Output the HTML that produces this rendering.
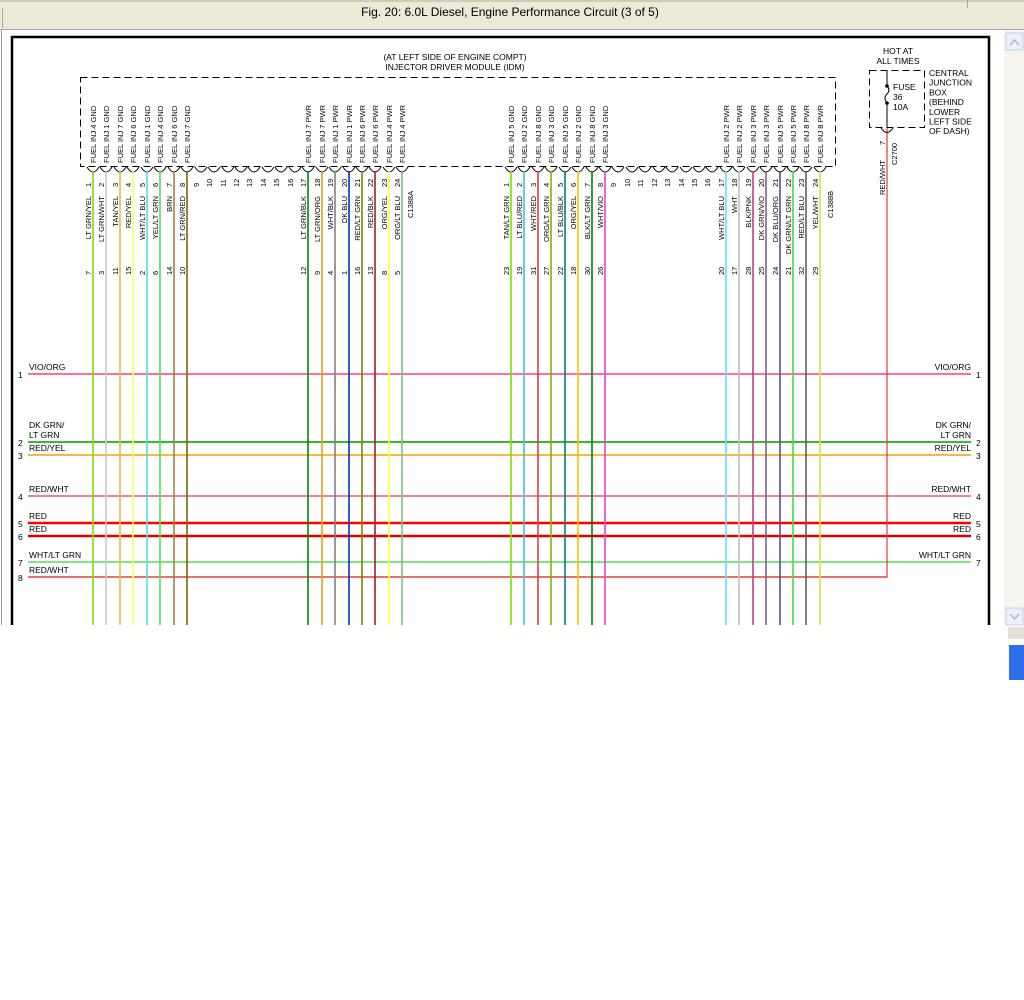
<!DOCTYPE html>
<html><head><meta charset="utf-8"><style>
html,body{margin:0;padding:0;background:#fff;width:1024px;height:1000px;overflow:hidden}
svg{display:block}
text{font-family:"Liberation Sans",sans-serif;fill:#000}
</style></head><body>
<svg id="s" width="1024" height="1000" viewBox="0 0 1024 1000" xmlns="http://www.w3.org/2000/svg">
<rect x="0" y="0" width="1024" height="30" fill="#ece9d8"/>
<line x1="0" y1="1" x2="1024" y2="1" stroke="#b0ad9f"/>
<line x1="0" y1="29.5" x2="1024" y2="29.5" stroke="#aca899"/>
<line x1="2.5" y1="8" x2="2.5" y2="28" stroke="#aca899"/>
<line x1="967.5" y1="0" x2="967.5" y2="8" stroke="#aca899"/>
<text x="510" y="16" font-size="12" text-anchor="middle">Fig. 20: 6.0L Diesel, Engine Performance Circuit (3 of 5)</text>
<line x1="1.5" y1="30" x2="1.5" y2="625" stroke="#999"/>
<rect x="1004" y="30" width="20" height="595" fill="#f5f4ee"/>
<rect x="1006" y="33" width="17" height="17" fill="#eef0f8" stroke="#c8cfe0"/>
<path d="M1010 45 L1014.5 40 L1019 45" stroke="#b0b8cc" fill="none" stroke-width="1.5"/>
<rect x="1006" y="608" width="17" height="17" fill="#eef0f8" stroke="#c8cfe0"/>
<path d="M1010 614 L1014.5 619 L1019 614" stroke="#b0b8cc" fill="none" stroke-width="1.5"/>
<rect x="1008" y="627" width="16" height="12" fill="#e4e2d8"/>
<rect x="1009" y="645" width="15" height="35" fill="#2d6fe8"/>
<path d="M12 625 V37 H989 V625" stroke="#000" stroke-width="2.5" fill="none"/>
<g id="g"></g>
</svg>
<script>
var g=document.getElementById('g');
function el(t,a,txt){var e=document.createElementNS('http://www.w3.org/2000/svg',t);for(var k in a)e.setAttribute(k,a[k]);if(txt!=null)e.textContent=txt;g.appendChild(e);return e;}
function rt(x,y,s,fs,anchor){el('text',{x:0,y:0,'font-size':fs||7.5,'text-anchor':anchor||'start',transform:'translate('+x+','+y+') rotate(-90)'},s);}
// horizontal wires
var H=[[374,'#ff3f7f',1.5,'VIO/ORG','1',1],[442,'#33bb33',2,'LT GRN','2',1],[455,'#ff9d00',1.5,'RED/YEL','3',1],[496,'#e03a3a',1.2,'RED/WHT','4',1],[523,'#ff0000',2.5,'RED','5',1],[536,'#dd0000',2.5,'RED','6',1],[562,'#55dd55',1.5,'WHT/LT GRN','7',1],[577,'#e03a3a',1.2,'RED/WHT','8',0]];
H.forEach(function(h){var x2=h[5]?971:887;el('line',{x1:28,y1:h[0],x2:x2,y2:h[0],stroke:h[1],'stroke-width':h[2]});
 el('text',{x:29,y:h[0]-4,'font-size':8.5},h[3]);el('text',{x:18,y:h[0]+4,'font-size':8.5},h[4]);
 if(h[5]){el('text',{x:971,y:h[0]-4,'font-size':8.5,'text-anchor':'end'},h[3]);el('text',{x:976,y:h[0]+4,'font-size':8.5},h[4]);}});
el('text',{x:29,y:428,'font-size':8.5},'DK GRN/');
el('text',{x:971,y:428,'font-size':8.5,'text-anchor':'end'},'DK GRN/');
// red/wht feed
el('path',{d:'M887 128 V577 H28',stroke:'#e03a3a','stroke-width':1.2,fill:'none'});
// module box
el('rect',{x:80.5,y:77.5,width:755,height:89,fill:'none',stroke:'#000','stroke-dasharray':'7,4'});
el('text',{x:455,y:60,'font-size':8.5,'text-anchor':'middle'},'(AT LEFT SIDE OF ENGINE COMPT)');
el('text',{x:455,y:70,'font-size':8.5,'text-anchor':'middle'},'INJECTOR DRIVER MODULE (IDM)');
function grp(x0,step,pins,firstNum){
 for(var i=0;i<24;i++){var x=Math.round(x0+i*step);var p=pins[i];
  el('path',{d:'M'+(x-6)+' 167 Q'+x+' 177 '+(x+6)+' 167',stroke:'#000',fill:'none','stroke-width':1});
  rt(x-2,187,String(i+1),7.5);
  if(p){el('line',{x1:x,y1:171,x2:x,y2:625,stroke:p[1],'stroke-width':1.6});
   rt(x+3,163,p[0],7.5);rt(x-2,196,p[2],7.5,'end');rt(x-2,275,p[3],7.5);}
 }}
var L={0:['FUEL INJ 4 GND','#7fdd00','LT GRN/YEL','7'],1:['FUEL INJ 1 GND','#c8c8c8','LT GRN/WHT','3'],2:['FUEL INJ 7 GND','#e0c040','TAN/YEL','11'],3:['FUEL INJ 6 GND','#ffff55','RED/YEL','15'],4:['FUEL INJ 1 GND','#55dddd','WHT/LT BLU','2'],5:['FUEL INJ 4 GND','#55dd55','YEL/LT GRN','6'],6:['FUEL INJ 6 GND','#a08040','BRN','14'],7:['FUEL INJ 7 GND','#806000','LT GRN/RED','10'],
16:['FUEL INJ 7 PWR','#008800','LT GRN/BLK','12'],17:['FUEL INJ 7 PWR','#e0a020','LT GRN/ORG','9'],18:['FUEL INJ 1 PWR','#808080','WHT/BLK','4'],19:['FUEL INJ 1 PWR','#0030c0','DK BLU','1'],20:['FUEL INJ 6 PWR','#808000','RED/LT GRN','16'],21:['FUEL INJ 6 PWR','#a02020','RED/BLK','13'],22:['FUEL INJ 4 PWR','#ffff40','ORG/YEL','8'],23:['FUEL INJ 4 PWR','#80c080','ORG/LT BLU','5']};
var R={0:['FUEL INJ 5 GND','#7fdd00','TAN/LT GRN','23'],1:['FUEL INJ 2 GND','#40c0e0','LT BLU/RED','19'],2:['FUEL INJ 8 GND','#e04040','WHT/RED','31'],3:['FUEL INJ 3 GND','#80b000','ORG/LT GRN','27'],4:['FUEL INJ 5 GND','#008080','LT BLU/BLK','22'],5:['FUEL INJ 2 GND','#ffc000','ORG/YEL','18'],6:['FUEL INJ 8 GND','#008000','BLK/LT GRN','30'],7:['FUEL INJ 3 GND','#e040e0','WHT/VIO','26'],
16:['FUEL INJ 2 PWR','#60e0ff','WHT/LT BLU','20'],17:['FUEL INJ 2 PWR','#c0c0c0','WHT','17'],18:['FUEL INJ 3 PWR','#c04080','BLK/PNK','28'],19:['FUEL INJ 3 PWR','#806090','DK GRN/VIO','25'],20:['FUEL INJ 5 PWR','#5050a0','DK BLU/ORG','24'],21:['FUEL INJ 5 PWR','#40dd40','DK GRN/LT GRN','21'],22:['FUEL INJ 8 PWR','#606060','RED/LT BLU','32'],23:['FUEL INJ 8 PWR','#e0e040','YEL/WHT','29']};
grp(93,13.45,L);grp(511,13.43,R);
rt(413,218,'C1388A',7.5);rt(833,218,'C1388B',7.5);
// fuse box
el('rect',{x:869.5,y:70.5,width:55,height:57,fill:'none',stroke:'#000','stroke-dasharray':'7,4'});
el('text',{x:898,y:54,'font-size':8.5,'text-anchor':'middle'},'HOT AT');
el('text',{x:898,y:64,'font-size':8.5,'text-anchor':'middle'},'ALL TIMES');
['CENTRAL','JUNCTION','BOX','(BEHIND','LOWER','LEFT SIDE','OF DASH)'].forEach(function(s,i){el('text',{x:929,y:76+i*9.7,'font-size':8.5},s);});
el('path',{d:'M887 70 V86 M887 103 V128',stroke:'#000',fill:'none'});
el('path',{d:'M887 86 q4 4 0 8 q-4 4 0 9',stroke:'#000',fill:'none'});
el('circle',{cx:887,cy:86,r:1.8});el('circle',{cx:887,cy:103,r:1.8});
el('text',{x:893,y:90,'font-size':8.5},'FUSE');el('text',{x:893,y:100,'font-size':8.5},'36');el('text',{x:893,y:110,'font-size':8.5},'10A');
el('path',{d:'M881 128 Q887 137 893 128',stroke:'#000',fill:'none'});
rt(885,145,'7',7.5);rt(897,165,'C2700',7.5);rt(885,195,'RED/WHT',7.5);
</script>
</body></html>
